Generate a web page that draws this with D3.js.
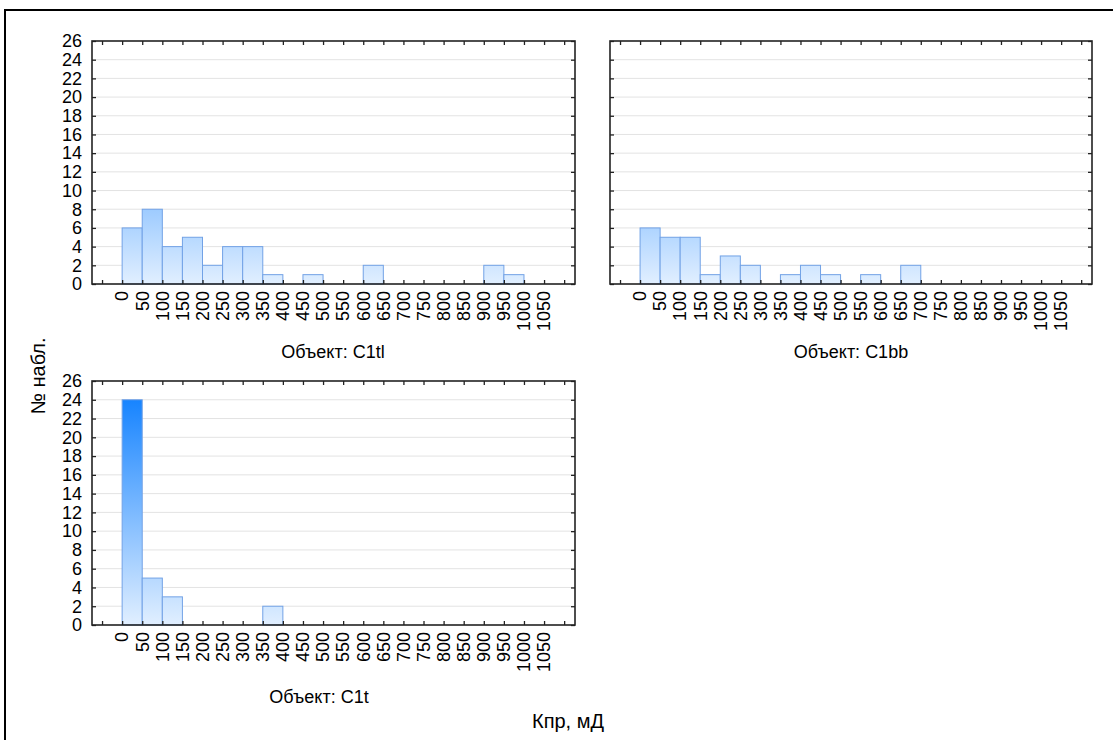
<!DOCTYPE html>
<html>
<head>
<meta charset="utf-8">
<script src="https://cdn.jsdelivr.net/npm/d3@7"></script>
<style>
  html, body { margin: 0; padding: 0; background: #fff; }
  svg { display: block; font-family: "Liberation Sans", Arial, sans-serif; }
</style>
</head>
<body>
<svg id="chart" width="1113" height="740"></svg>
<script>
// ---- data ----
const binStarts = [0, 50, 100, 150, 200, 250, 300, 350, 400, 450, 500, 550, 600, 650, 700, 750, 800, 850, 900, 950, 1000];
const countsC1tl = [6, 8, 4, 5, 2, 4, 4, 1, 0, 1, 0, 0, 2, 0, 0, 0, 0, 0, 2, 1, 0];
const countsC1bb = [6, 5, 5, 1, 3, 2, 0, 1, 2, 1, 0, 1, 0, 2, 0, 0, 0, 0, 0, 0, 0];
const countsC1t  = [24, 5, 3, 0, 0, 0, 0, 2, 0, 0, 0, 0, 0, 0, 0, 0, 0, 0, 0, 0, 0];
const xTickLabels = ["0","50","100","150","200","250","300","350","400","450","500","550","600","650","700","750","800","850","900","950","1000","1050"];
const xTickMarks = [-50, 0, 50, 100, 150, 200, 250, 300, 350, 400, 450, 500, 550, 600, 650, 700, 750, 800, 850, 900, 950, 1000, 1050, 1100];
const yTicks = [0, 2, 4, 6, 8, 10, 12, 14, 16, 18, 20, 22, 24, 26];
const panelTitles = ["Объект: C1tl", "Объект: C1bb", "Объект: C1t"];
const yAxisTitle = "№ набл.";
const xAxisTitle = "Кпр, мД";
const binWidth = 50;

// ---- layout ----
const svg = d3.select("#chart");
const FS = 18;
const panels = [
  { id: "p1", counts: countsC1tl, title: panelTitles[0], x0: 92, x1: 575, y0: 41, y1: 284, yLabels: true, tx: 333, ty: 358 },
  { id: "p2", counts: countsC1bb, title: panelTitles[1], x0: 610, x1: 1092, y0: 41, y1: 284, yLabels: false, tx: 851, ty: 358 },
  { id: "p3", counts: countsC1t,  title: panelTitles[2], x0: 92, x1: 575, y0: 381, y1: 625, yLabels: true, tx: 319, ty: 703 }
];

// outer frame
svg.append("rect").attr("x", 5).attr("y", 10).attr("width", 1200).attr("height", 800)
  .attr("fill", "none").attr("stroke", "#000").attr("stroke-width", 2);

const defs = svg.append("defs");

panels.forEach(p => {
  const x = d3.scaleLinear().domain([-75, 1127]).range([p.x0, p.x1]);
  const y = d3.scaleLinear().domain([0, 26]).range([p.y1, p.y0]);
  const g = svg.append("g");

  // gradient (in plot coordinates)
  const grad = defs.append("linearGradient").attr("id", "grad-" + p.id)
    .attr("gradientUnits", "userSpaceOnUse")
    .attr("x1", 0).attr("x2", 0).attr("y1", y(0)).attr("y2", y(24));
  grad.append("stop").attr("offset", 0).attr("stop-color", "#e1efff");
  grad.append("stop").attr("offset", 1).attr("stop-color", "#1784ff");

  // grid
  g.selectAll("line.grid").data(yTicks.filter(v => v > 0 && v < 26)).enter()
    .append("line").attr("class", "grid")
    .attr("x1", p.x0).attr("x2", p.x1)
    .attr("y1", d => y(d)).attr("y2", d => y(d))
    .attr("stroke", "#e3e3e3").attr("stroke-width", 1);

  // bars
  const data = binStarts.map((s, i) => ({ s, c: p.counts[i] })).filter(d => d.c > 0);
  g.selectAll("rect.bar").data(data).enter().append("rect").attr("class", "bar")
    .attr("x", d => x(d.s))
    .attr("width", d => x(d.s + binWidth) - x(d.s))
    .attr("y", d => y(d.c))
    .attr("height", d => y(0) - y(d.c))
    .attr("fill", "url(#grad-" + p.id + ")")
    .attr("stroke", "#72a2e6").attr("stroke-width", 1);

  // tick marks (inward)
  const styleAxis = sel => { sel.select(".domain").remove(); sel.selectAll("line").attr("stroke", "#222").attr("stroke-width", 1.3); sel.selectAll("text").remove(); };
  g.append("g").attr("transform", `translate(0,${p.y1})`)
    .call(d3.axisBottom(x).tickValues(xTickMarks).tickSize(-4)).call(styleAxis);
  g.append("g").attr("transform", `translate(0,${p.y0})`)
    .call(d3.axisTop(x).tickValues(xTickMarks).tickSize(-4)).call(styleAxis);
  g.append("g").attr("transform", `translate(${p.x0},0)`)
    .call(d3.axisLeft(y).tickValues(yTicks).tickSize(-4)).call(styleAxis);
  g.append("g").attr("transform", `translate(${p.x1},0)`)
    .call(d3.axisRight(y).tickValues(yTicks).tickSize(-4)).call(styleAxis);

  // box
  g.append("rect").attr("x", p.x0).attr("y", p.y0)
    .attr("width", p.x1 - p.x0).attr("height", p.y1 - p.y0)
    .attr("fill", "none").attr("stroke", "#222").attr("stroke-width", 1.6);

  // x labels (rotated)
  g.selectAll("text.xl").data(xTickLabels).enter().append("text").attr("class", "xl")
    .attr("transform", d => `translate(${x(+d)},${p.y1 + 7}) rotate(-90)`)
    .attr("text-anchor", "end").attr("dy", "0.35em")
    .attr("font-size", FS).attr("fill", "#000").text(d => d);

  // y labels
  if (p.yLabels) {
    g.selectAll("text.yl").data(yTicks).enter().append("text").attr("class", "yl")
      .attr("x", p.x0 - 10).attr("y", d => y(d)).attr("dy", "0.35em")
      .attr("text-anchor", "end").attr("font-size", FS).attr("fill", "#000").text(d => d);
  }

  // panel title
  g.append("text").attr("x", p.tx).attr("y", p.ty).attr("text-anchor", "middle")
    .attr("font-size", FS).attr("fill", "#000").text(p.title);
});

// axis titles
svg.append("text").attr("transform", "translate(45,376) rotate(-90)")
  .attr("text-anchor", "middle").attr("font-size", 20).attr("fill", "#000").text(yAxisTitle);
svg.append("text").attr("x", 568).attr("y", 728)
  .attr("text-anchor", "middle").attr("font-size", 20).attr("fill", "#000").text(xAxisTitle);
</script>
</body>
</html>
